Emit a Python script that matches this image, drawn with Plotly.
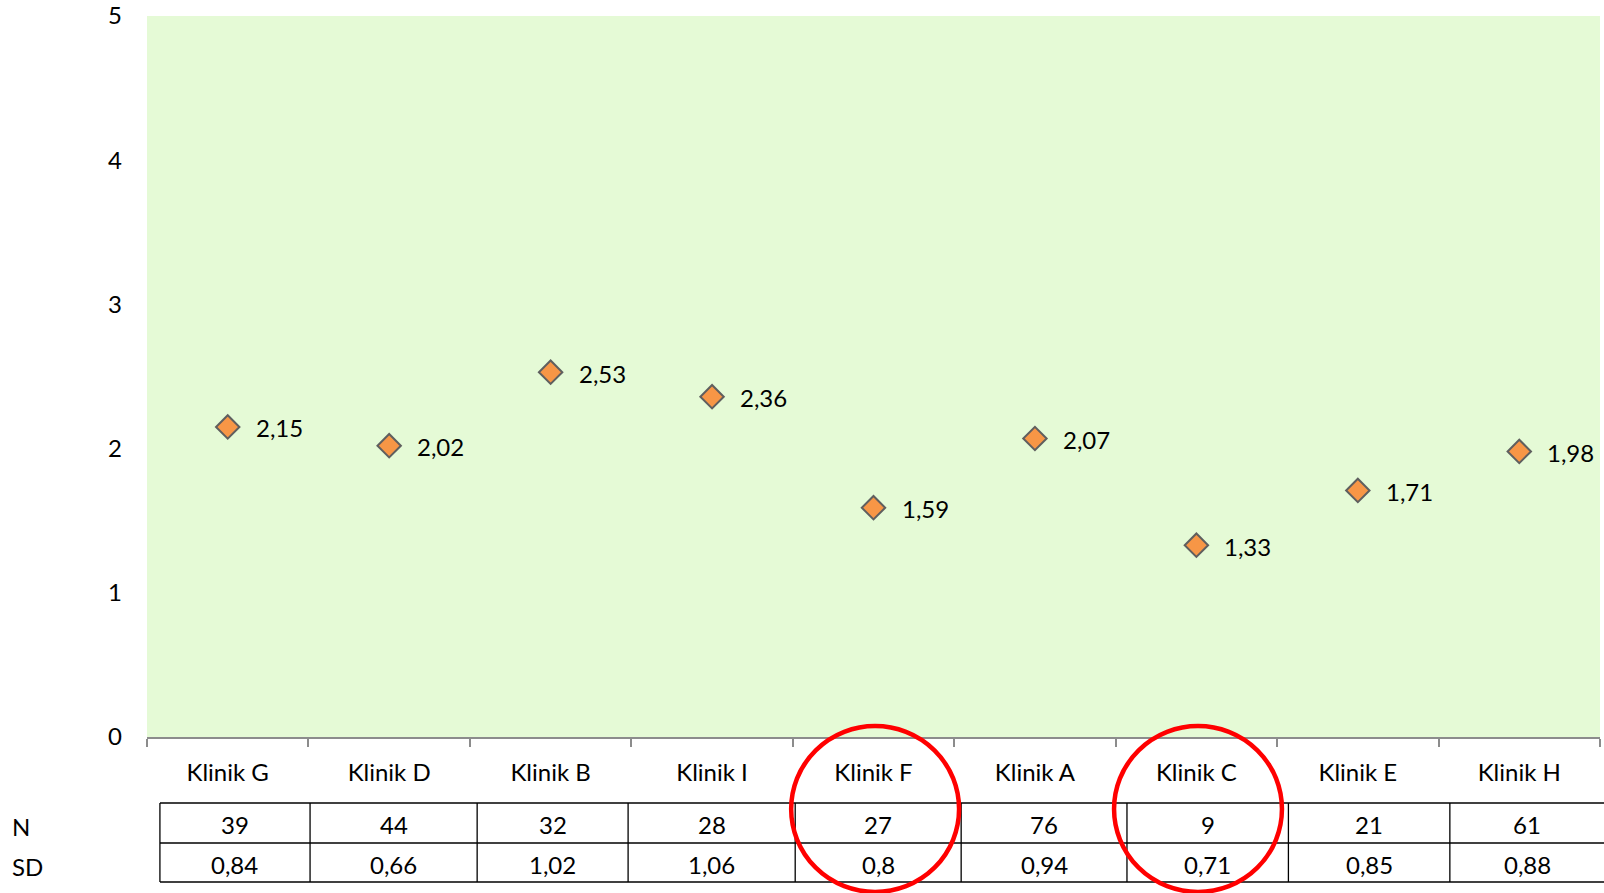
import plotly.graph_objects as go

categories = ["Klinik G", "Klinik D", "Klinik B", "Klinik I", "Klinik F",
              "Klinik A", "Klinik C", "Klinik E", "Klinik H"]
means = [2.15, 2.02, 2.53, 2.36, 1.59, 2.07, 1.33, 1.71, 1.98]
n_values = [39, 44, 32, 28, 27, 76, 9, 21, 61]
sd_values = ["0,84", "0,66", "1,02", "1,06", "0,8", "0,94", "0,71", "0,85", "0,88"]
highlighted = ["Klinik F", "Klinik C"]

FONT = "Lato"
FS = 24
W, H = 1604, 893
L, R, T, B = 147, 4, 16, 156
ph = H - T - B
pw = W - L - R

def py(px_y):
    return (H - B - px_y) / ph

def pxx(px_x):
    return (px_x - L) / pw

# table column borders (in category-axis units), slightly offset as in the original
table_edges = [-0.42, 0.51, 1.545, 2.48, 3.515, 4.543, 5.57, 6.57, 7.57, 8.6]

fig = go.Figure()
fig.add_trace(go.Scatter(
    x=categories, y=means, mode="markers",
    marker=dict(symbol="diamond", size=18, color="#F79646",
                line=dict(color="#5F5F5F", width=2)),
    hoverinfo="skip", showlegend=False, cliponaxis=False,
))

ann = []
for c, v in zip(categories, means):
    ann.append(dict(x=c, y=v, xref="x", yref="y", text=f"{v:.2f}".replace(".", ","),
                    showarrow=False, xanchor="left", yanchor="middle", xshift=26, yshift=-1,
                    font=dict(family=FONT, size=FS, color="#000000")))

yN = py(824)
ySD = py(864)
for i, c in enumerate(categories):
    cx = (table_edges[i] + table_edges[i + 1]) / 2 if i < len(categories) - 1 else i + 0.05
    ann.append(dict(x=cx, y=yN, xref="x", yref="paper", text=str(n_values[i]),
                    showarrow=False, xanchor="center", yanchor="middle",
                    font=dict(family=FONT, size=FS, color="#000000")))
    ann.append(dict(x=cx, y=ySD, xref="x", yref="paper", text=sd_values[i],
                    showarrow=False, xanchor="center", yanchor="middle",
                    font=dict(family=FONT, size=FS, color="#000000")))
ann.append(dict(x=pxx(10), y=py(826), xref="paper", yref="paper", text="N",
                showarrow=False, xanchor="left", yanchor="middle",
                font=dict(family=FONT, size=FS, color="#000000")))
ann.append(dict(x=pxx(10), y=py(867), xref="paper", yref="paper", text="SD",
                showarrow=False, xanchor="left", yanchor="middle",
                font=dict(family=FONT, size=FS, color="#000000")))

shapes = []
# table horizontal lines
for yy in (803, 843, 882):
    shapes.append(dict(type="line", xref="paper", yref="paper",
                       x0=pxx(160), x1=pxx(1606), y0=py(yy), y1=py(yy),
                       line=dict(color="#000000", width=1.3)))
# table vertical lines
for x in table_edges[:-1]:
    shapes.append(dict(type="line", xref="x", yref="paper",
                       x0=x, x1=x, y0=py(803), y1=py(882),
                       line=dict(color="#000000", width=1.3)))
# red highlight circles
for h in highlighted:
    i = categories.index(h)
    shapes.append(dict(type="circle", xref="x", yref="paper",
                       x0=i - 0.51, x1=i + 0.53, y0=py(892), y1=py(726),
                       line=dict(color="#FF0000", width=4.5)))

fig.update_layout(
    width=W, height=H,
    margin=dict(l=L, r=R, t=T, b=B, autoexpand=False),
    paper_bgcolor="#FFFFFF",
    plot_bgcolor="#E5FAD6",
    font=dict(family=FONT, size=FS, color="#000000"),
    annotations=ann, shapes=shapes,
    xaxis=dict(type="category", range=[-0.5, len(categories) - 0.5],
               showgrid=False, zeroline=False, automargin=False,
               showline=True, linecolor="#8C8C8C", linewidth=2,
               ticks="outside", tickson="boundaries", ticklen=8, tickwidth=2,
               tickcolor="#8C8C8C", ticklabelstandoff=13,
               tickfont=dict(family=FONT, size=FS, color="#000000")),
    yaxis=dict(range=[0, 5], tickvals=[0, 1, 2, 3, 4, 5],
               showgrid=False, zeroline=False, showline=False, ticks="",
               automargin=False,
               ticklabelstandoff=24, ticklabeloverflow="allow",
               tickfont=dict(family=FONT, size=FS, color="#000000")),
)

fig.write_html("out.html")
